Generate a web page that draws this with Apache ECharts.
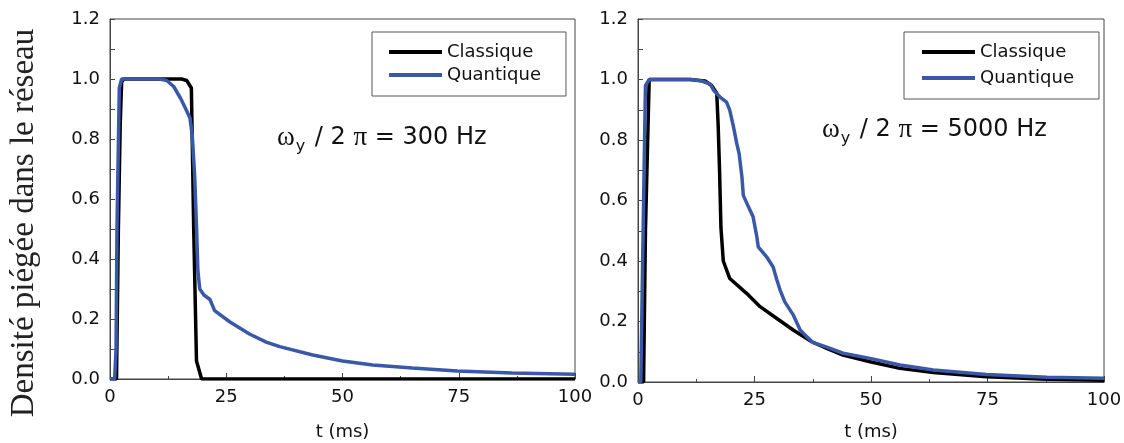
<!DOCTYPE html>
<html>
<head>
<meta charset="utf-8">
<script src="https://cdn.jsdelivr.net/npm/echarts@6/dist/echarts.min.js"></script>
<style>
html,body{margin:0;padding:0;background:#fff;}
#chart{width:1124px;height:443px;}
</style>
</head>
<body>
<div id="chart"></div>
<script>
// ---- data (t in ms, trapped density) ----
var seriesNames = ['Classique', 'Quantique'];
var xTicks = [0, 25, 50, 75, 100];
var yTicks = [0.0, 0.2, 0.4, 0.6, 0.8, 1.0, 1.2];
var panelLabels = ['300 Hz', '5000 Hz'];

var classique300 = [[0,0],[1.4,0],[1.8,0.5],[2.2,0.85],[2.5,0.99],[3,1.0],[15.4,1.0],[16.5,0.995],[17.5,0.97],[18.0,0.5],[18.6,0.06],[19.7,0],[100,0]];
var quantique300 = [[0,0],[1.0,0],[1.3,0.1],[1.5,0.5],[2.0,0.97],[2.5,1.0],[10.7,1.0],[12.2,0.995],[13.7,0.975],[15.2,0.935],[16.3,0.90],[17.2,0.87],[17.7,0.81],[18.2,0.68],[18.6,0.51],[18.9,0.36],[19.3,0.30],[20.2,0.28],[21.5,0.265],[22.5,0.228],[25.8,0.19],[30,0.15],[33.6,0.123],[36.5,0.108],[43.6,0.08],[50,0.06],[56.5,0.047],[65,0.037],[74.7,0.027],[86.5,0.02],[100,0.016]];
var classique5000 = [[0,0],[1.2,0],[1.6,0.5],[2.4,1.0],[11.2,1.0],[14.4,0.995],[15.8,0.98],[16.9,0.955],[17.2,0.85],[17.5,0.70],[17.8,0.51],[18.3,0.40],[19.7,0.342],[23.3,0.293],[26.2,0.249],[29.8,0.21],[33.3,0.172],[37.3,0.133],[40.5,0.111],[44,0.089],[49.8,0.067],[56.2,0.045],[63.4,0.031],[74.8,0.017],[87.7,0.009],[100,0.006]];
var quantique5000 = [[0,0],[0.6,0],[1.1,0.5],[1.6,0.98],[2.4,1.0],[11.2,1.0],[13.7,0.995],[15.5,0.985],[16.2,0.965],[17.6,0.942],[19,0.925],[19.7,0.898],[20.5,0.843],[21.2,0.788],[21.7,0.755],[22.3,0.678],[22.6,0.617],[23.7,0.579],[24.7,0.546],[25.5,0.48],[25.8,0.447],[27.6,0.414],[29,0.38],[29.8,0.337],[30.5,0.304],[31.5,0.265],[33.3,0.222],[34.8,0.172],[36.2,0.15],[37.6,0.13],[40.5,0.115],[44,0.095],[49.8,0.078],[56.2,0.056],[63.4,0.04],[74.8,0.025],[87.7,0.016],[100,0.012]];

// ---- styling ----
var BLACK = '#000000';
var BLUE = '#3a58a8';
var AXIS = '#444444';
var SANS = 'DejaVu Sans';
var SERIF = 'Liberation Serif';

function xAxisCfg(idx, gap) {
  return {
    gridIndex: idx, type: 'value', min: xTicks[0], max: xTicks[xTicks.length - 1], interval: xTicks[1] - xTicks[0],
    name: 't (ms)', nameLocation: 'middle', nameGap: gap,
    nameTextStyle: {fontFamily: SANS, fontSize: 18, color: '#111'},
    axisLine: {lineStyle: {color: AXIS, width: 1}},
    axisTick: {inside: true, length: 6, lineStyle: {color: AXIS}},
    minorTick: {show: true, splitNumber: 2, length: 3, lineStyle: {color: AXIS}},
    axisLabel: {fontFamily: SANS, fontSize: 18, color: '#111', margin: 9},
    splitLine: {show: false}
  };
}
function yAxisCfg(idx) {
  return {
    gridIndex: idx, type: 'value', min: yTicks[0], max: yTicks[yTicks.length - 1], interval: yTicks[1] - yTicks[0],
    axisLine: {show: true, lineStyle: {color: AXIS, width: 1}},
    axisTick: {show: true, inside: true, length: 5, lineStyle: {color: AXIS}},
    minorTick: {show: true, splitNumber: 2, length: 5, lineStyle: {color: AXIS}},
    axisLabel: {fontFamily: SANS, fontSize: 18, color: '#111', margin: 10, formatter: function (v) { return v.toFixed(1); }},
    splitLine: {show: false}
  };
}
function lineSeries(name, data, color, idx) {
  return {
    name: name, type: 'line', xAxisIndex: idx, yAxisIndex: idx, data: data,
    symbol: 'none', showSymbol: false, smooth: false,
    lineStyle: {color: color, width: 3.5}, itemStyle: {color: color},
    z: name === seriesNames[1] ? 3 : 2
  };
}
function legendCfg(left, gap, pad) {
  return {
    left: left, top: 32, orient: 'vertical', itemWidth: 53, itemHeight: 4, itemGap: gap,
    icon: 'rect',
    padding: pad, borderColor: '#555', borderWidth: 1, backgroundColor: '#fff',
    textStyle: {fontFamily: SANS, fontSize: 18, color: '#111'},
    data: seriesNames
  };
}
var rich = {
  w: {fontFamily: SERIF, fontSize: 27, color: '#111'},
  sub: {fontFamily: SANS, fontSize: 16, color: '#111', padding: [18, 2, 0, 1]},
  t: {fontFamily: SANS, fontSize: 24, color: '#111'}
};
function annot(x, y, label) {
  return {
    type: 'text', left: x, top: y, z: 10,
    style: {
      text: '{w|ω}{sub|y}{t| / 2 }{w|π}{t| = ' + label + '}',
      rich: rich, fill: '#111'
    }
  };
}

var chart = echarts.init(document.getElementById('chart'), null, {renderer: 'canvas'});
var option = {
  backgroundColor: '#fff',
  animation: false,
  grid: [
    {left: 110, right: 549, top: 19, bottom: 64, show: true, borderColor: AXIS, borderWidth: 1, containLabel: false, outerBoundsMode: 'none'},
    {left: 638, right: 20, top: 19, bottom: 61, show: true, borderColor: AXIS, borderWidth: 1, containLabel: false, outerBoundsMode: 'none'}
  ],
  xAxis: [xAxisCfg(0, 44), xAxisCfg(1, 41)],
  yAxis: [yAxisCfg(0), yAxisCfg(1)],
  legend: [
    legendCfg(372, 5, [11, 25, 12, 17]),
    legendCfg(904, 8, [11, 25, 12, 18])
  ],
  series: [
    lineSeries(seriesNames[0], classique300, BLACK, 0),
    lineSeries(seriesNames[1], quantique300, BLUE, 0),
    lineSeries(seriesNames[0], classique5000, BLACK, 1),
    lineSeries(seriesNames[1], quantique5000, BLUE, 1)
  ],
  graphic: [
    annot(277, 124, panelLabels[0]),
    annot(822, 116, panelLabels[1]),
    {
      type: 'text', x: 24, y: 223, rotation: Math.PI / 2, z: 10,
      style: {text: 'Densité piégée dans le réseau', fontFamily: SERIF, fontSize: 33, fill: '#222', align: 'center', verticalAlign: 'middle'}
    }
  ]
};
chart.setOption(option);
</script>
</body>
</html>
